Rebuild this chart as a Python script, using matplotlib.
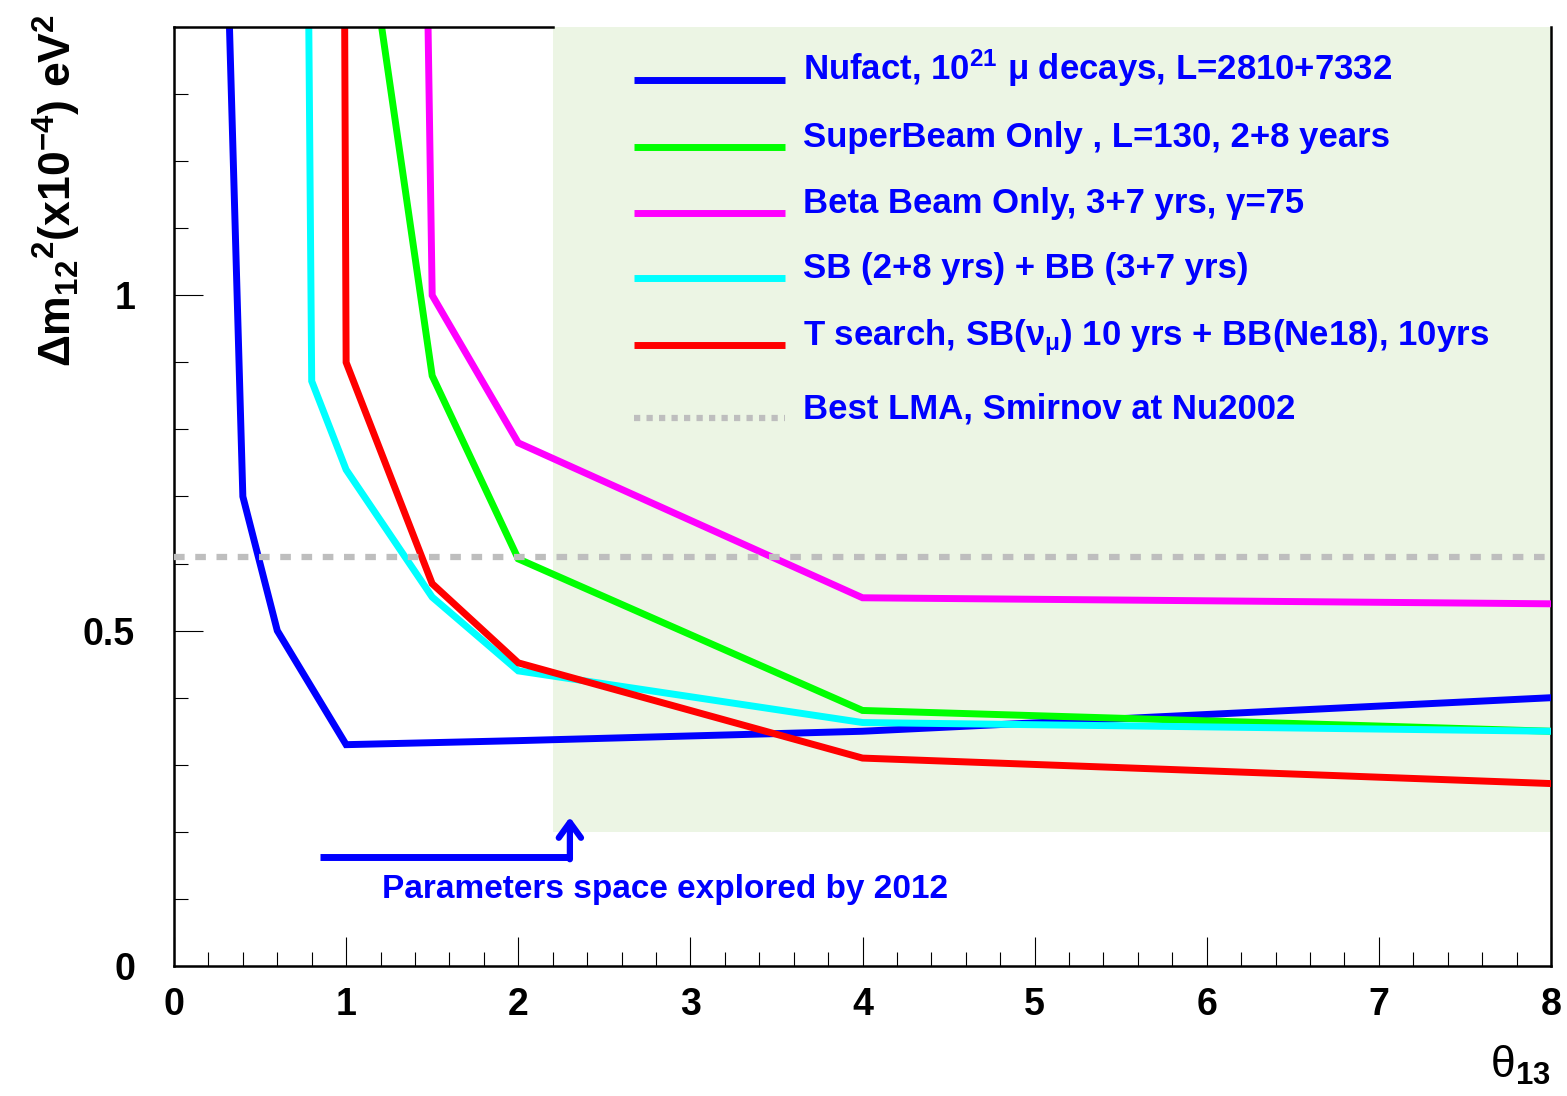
import matplotlib.pyplot as plt
from matplotlib.patches import Rectangle
from matplotlib.ticker import MultipleLocator, FixedLocator, FixedFormatter

plt.rcParams['mathtext.fontset'] = 'custom'
plt.rcParams['mathtext.rm'] = 'Liberation Sans:bold'
plt.rcParams['mathtext.it'] = 'Liberation Sans:bold'
plt.rcParams['mathtext.bf'] = 'Liberation Sans:bold'

# sensitivity curves: theta13 (deg) vs delta m12^2 (1e-4 eV^2)
theta_nufact = [0.30, 0.40, 0.60, 1.0, 2.0, 4.0, 8.0]
dm_nufact = [1.60, 0.70, 0.50, 0.33, 0.336, 0.35, 0.40]

theta_sb = [1.15, 1.5, 2.0, 4.0, 8.0]
dm_sb = [1.50, 0.88, 0.607, 0.381, 0.35]

theta_bb = [1.47, 1.5, 2.0, 4.0, 8.0]
dm_bb = [1.50, 1.00, 0.78, 0.549, 0.54]

theta_sbbb = [0.78, 0.80, 1.0, 1.5, 2.0, 4.0, 8.0]
dm_sbbb = [1.50, 0.872, 0.74, 0.55, 0.44, 0.363, 0.35]

theta_tsearch = [0.99, 1.0, 1.5, 2.0, 4.0, 8.0]
dm_tsearch = [1.50, 0.90, 0.57, 0.452, 0.31, 0.272]

lma_best = 0.61

labels = [
    'Nufact, 10$^{21}$ μ decays, L=2810+7332',
    'SuperBeam Only , L=130, 2+8 years',
    'Beta Beam Only, 3+7 yrs, γ=75',
    'SB (2+8 yrs) + BB (3+7 yrs)',
    'T search, SB(ν$_{\\mu}$) 10 yrs + BB(Ne18), 10yrs',
    'Best LMA, Smirnov at Nu2002',
]
colors = ['#0000ff', '#00ff00', '#ff00ff', '#00ffff', '#ff0000']

# region still open after 2012
explored_x = (2.2, 8.0)
explored_y = (0.2, 1.4)

fig = plt.figure(figsize=(15.67, 10.96), dpi=100)
ax = fig.add_axes([174 / 1567, 130 / 1096, 1377 / 1567, 939 / 1096])

ax.add_patch(Rectangle((explored_x[0], explored_y[0]), explored_x[1] - explored_x[0],
                       explored_y[1] - explored_y[0], facecolor='#ecf5e4',
                       edgecolor='none', zorder=0))

curves = [(theta_nufact, dm_nufact), (theta_sb, dm_sb), (theta_bb, dm_bb),
          (theta_sbbb, dm_sbbb), (theta_tsearch, dm_tsearch)]
for (x, y), c in zip(curves, colors):
    ax.plot(x, y, color=c, lw=5, solid_joinstyle='miter', zorder=3)

ax.axhline(lma_best, color='#bebebe', lw=4.5, dashes=(1.7, 1.7), zorder=4)

ax.set_xlim(0, 8)
ax.set_ylim(0, 1.4)

# frame: left, bottom, right, and top only over the white part
ax.spines['top'].set_visible(False)
for s in ['left', 'bottom', 'right']:
    ax.spines[s].set_linewidth(1.8)
ax.plot([0, explored_x[0]], [1.4, 1.4], color='black', lw=1.8, clip_on=False, zorder=5)

ax.xaxis.set_major_locator(MultipleLocator(1))
ax.xaxis.set_minor_locator(MultipleLocator(0.2))
ax.yaxis.set_major_locator(FixedLocator([0, 0.5, 1.0]))
ax.yaxis.set_major_formatter(FixedFormatter(['0', '0.5', '1']))
ax.yaxis.set_minor_locator(MultipleLocator(0.1))
ax.tick_params(which='both', direction='in', top=False, right=False, width=0.8)
ax.tick_params(which='major', length=21)
ax.tick_params(which='minor', length=10)
ax.tick_params(axis='x', which='major', pad=15, labelsize=27)
ax.tick_params(axis='y', which='major', pad=28, labelsize=27)
for lab in ax.get_xticklabels() + ax.get_yticklabels():
    lab.set_fontweight('bold')
    lab.set_family('Liberation Sans')

# legend drawn by hand in axes fraction
row_px = [80, 147, 213, 278, 345, 418]
for i, lab in enumerate(labels):
    yf = (966 - row_px[i]) / 939
    if i < 5:
        ax.plot([0.334, 0.444], [yf, yf], color=colors[i], lw=5,
                transform=ax.transAxes, solid_capstyle='butt', zorder=6)
    else:
        ax.plot([0.334, 0.444], [yf, yf], color='#bebebe', lw=4.5,
                dashes=(1.0, 1.0), transform=ax.transAxes, zorder=6)
    ax.text(0.457, yf, lab, transform=ax.transAxes, color='#0000ff',
            fontsize=25, fontweight='bold', family='Liberation Sans',
            ha='left', va='baseline', zorder=7)

# arrow marking the explored region
ax.plot([0.85, 2.3], [0.162, 0.162], color='#0000ff', lw=5, solid_capstyle='butt', zorder=5)
ax.annotate('', xy=(2.3, 0.226), xytext=(2.3, 0.155),
            arrowprops=dict(arrowstyle='->,head_length=1.1,head_width=0.8',
                            color='#0000ff', lw=4.5), zorder=5)
ax.text(1.21, 0.114, 'Parameters space explored by 2012', color='#0000ff',
        fontsize=24, fontweight='bold', family='Liberation Sans',
        ha='left', va='center', zorder=5)

fig.text(57 / 1567, 1 - 190 / 1096, 'Δm$_{12}$$^{2}$(x10$^{-4}$) eV$^{2}$',
         rotation=90, ha='center', va='center', fontsize=32, fontweight='bold',
         family='Liberation Sans')
fig.text(1551 / 1567, 1 - 1078 / 1096, 'θ$_{13}$', ha='right', va='baseline',
         fontsize=32, family='Liberation Sans')

fig.savefig('out.png', dpi=100)
